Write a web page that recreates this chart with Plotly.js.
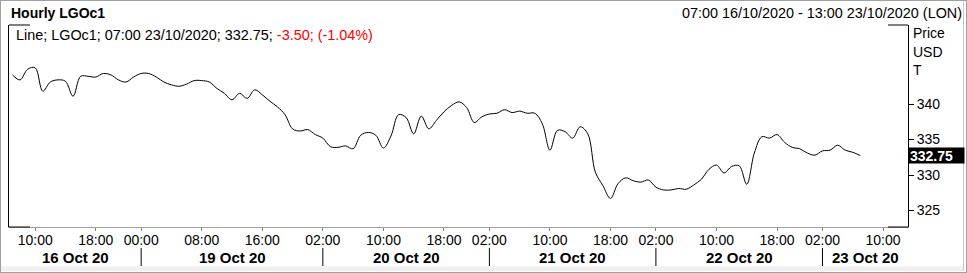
<!DOCTYPE html>
<html><head><meta charset="utf-8">
<script src="https://cdn.plot.ly/plotly-3.0.1.min.js"></script>
<style>
html,body{margin:0;padding:0;background:#fff;}
#wrap{position:relative;width:967px;height:273px;overflow:hidden;}
#chart{width:967px;height:273px;}
#border{position:absolute;left:0;top:0;width:965px;height:271px;border:1px solid #a0a0a0;pointer-events:none;}
</style>
</head><body><div id="wrap"><div id="chart"></div><div id="border"></div></div>
<script>
const dayLabels = ['16 Oct 20','19 Oct 20','20 Oct 20','21 Oct 20','22 Oct 20','23 Oct 20'];
const dayKeys = ['16/10','19/10','20/10','21/10','22/10','23/10'];
const dayFirstHour = [7,0,1,1,1,1];
const dayLastHour = [23,22,22,22,22,13];
const tickHours = [[10,18],[0,8,16],[2,10,18],[2,10,18],[2,10,18],[2,10]];
const prices = [344.1,343.4,344.9,345.1,341.8,343.1,343.4,343.2,341.1,343.9,
343.9,343.8,344.3,344.1,343.4,343.1,343.8,344.3,344.3,343.8,
343.1,342.7,342.5,342.8,343.3,343.3,343.1,342.2,341.5,340.6,
341.5,340.8,342.0,341.3,340.4,339.6,338.5,336.5,336.2,336.4,
335.7,335.2,334.0,333.9,334.1,333.7,335.6,336.0,335.6,333.8,
335.5,338.5,338.1,335.8,338.3,336.5,337.7,338.9,339.8,340.3,
339.5,337.4,338.2,338.6,338.7,339.2,338.8,339.0,338.7,338.7,
337.2,333.5,336.3,336.1,335.2,336.8,335.8,330.4,328.5,326.7,
328.8,329.6,329.2,329.0,329.3,328.3,327.9,327.9,328.1,328.0,
328.6,329.4,330.8,331.4,330.3,331.2,331.3,328.7,333.1,335.4,
335.2,335.7,334.6,333.9,333.7,333.1,332.8,333.4,333.5,334.2,
333.5,333.2,332.75];
const ricName = 'LGOc1';
const lastTime = '07:00 23/10/2020';
const prevClose = 336.25;
const yTicks = [325,330,335,340];
const yUnits = ['Price','USD','T'];

const pad = h => (h<10?'0':'')+h+':00';
const cats = [];
dayKeys.forEach((k,d)=>{ for(let h=dayFirstHour[d]; h<=dayLastHour[d]; h++) cats.push(k+' '+pad(h)); });
const tickvals = [], ticktext = [];
tickHours.forEach((hs,d)=>hs.forEach(h=>{ tickvals.push(dayKeys[d]+' '+pad(h)); ticktext.push(pad(h)); }));
const xr = [-0.46, 118.3];
const seps = tickHours.slice(1).map((hs,i)=>cats.indexOf(dayKeys[i+1]+' '+pad(hs[0])));
const bounds = [xr[0]].concat(seps).concat([xr[1]]);

const last = prices[prices.length-1];
const chg = last - prevClose;
const pct = chg/prevClose*100;

const F = 'Liberation Sans, Arial, sans-serif';
const px = v => (v-9)/899, py = v => (227-v)/202;
const annotations = [
  {xref:'paper',yref:'paper',x:0,y:py(13),xanchor:'left',yanchor:'middle',showarrow:false,text:'<b>Hourly '+ricName+'</b>',font:{family:F,size:14,color:'#000'}},
  {xref:'paper',yref:'paper',x:px(964),y:py(13),xanchor:'right',yanchor:'middle',showarrow:false,text:'07:00 16/10/2020 - 13:00 23/10/2020 (LON)',font:{family:F,size:14.4,color:'#000'}},
  {xref:'paper',yref:'paper',x:px(14),y:py(35),xanchor:'left',yanchor:'middle',showarrow:false,
   text:'Line; '+ricName+'; '+lastTime+'; '+last.toFixed(2)+'; <span style="color:#ff0000">'+chg.toFixed(2)+'; ('+pct.toFixed(2)+'%)</span>',font:{family:F,size:14.4,color:'#000'}},
  {xref:'paper',yref:'y',x:1,y:last,xanchor:'left',yanchor:'middle',showarrow:false,text:'<b>'+last.toFixed(2)+'</b>',bgcolor:'#000',font:{family:F,size:14,color:'#fff'},width:53,height:13,borderpad:1,align:'left'}
];
yUnits.forEach((u,i)=>annotations.push({xref:'paper',yref:'paper',x:px(911),y:py([33,52,70][i]),xanchor:'left',yanchor:'middle',showarrow:false,text:u,font:{family:F,size:14,color:'#000'}}));
dayLabels.forEach((l,i)=>annotations.push({xref:'x',yref:'paper',x:(bounds[i]+bounds[i+1])/2,y:py(257),xanchor:'center',yanchor:'middle',showarrow:false,text:'<b>'+l+'</b>',font:{family:F,size:15,color:'#000'}}));

const shapes = [
  {type:'rect',xref:'paper',yref:'paper',x0:px(1),x1:px(963),y0:py(266.5),y1:py(271),fillcolor:'#f0f0f0',line:{width:0},layer:'below'},
  {type:'line',xref:'paper',yref:'paper',x0:px(963.5),x1:px(963.5),y0:py(1),y1:py(271),line:{color:'#c8c8c8',width:1}}
];
seps.forEach(s=>shapes.push({type:'line',xref:'x',yref:'paper',x0:s,x1:s,y0:py(248),y1:py(266),line:{color:'#000',width:1}}));
[[0,px(30)],[px(888),1]].forEach(([a,b])=>{
  shapes.push({type:'line',xref:'paper',yref:'paper',x0:a,x1:b,y0:1,y1:1,line:{color:'#000',width:1}});
  shapes.push({type:'line',xref:'paper',yref:'paper',x0:a,x1:b,y0:0,y1:0,line:{color:'#000',width:1}});
});

Plotly.newPlot('chart',[{
  type:'scatter',mode:'lines',x:cats.slice(0,prices.length),y:prices,
  line:{color:'#000',width:1,shape:'spline',smoothing:1},hoverinfo:'skip'
}],{
  width:967,height:273,margin:{l:9,r:59,t:25,b:46},
  paper_bgcolor:'#fff',plot_bgcolor:'#fff',showlegend:false,
  font:{family:F,size:14,color:'#000'},
  xaxis:{type:'category',categoryorder:'array',categoryarray:cats,range:xr,tickmode:'array',tickvals:tickvals,ticktext:ticktext,
    ticks:'outside',ticklen:3,tickcolor:'#808080',showline:true,linecolor:'#a0a0a0',linewidth:1,showgrid:false,zeroline:false,
    tickfont:{family:F,size:14,color:'#000'},tickangle:0,ticklabelstandoff:-3},
  yaxis:{side:'right',range:[322.68,351.13],tickmode:'array',tickvals:yTicks,ticks:'outside',ticklen:5,tickcolor:'#000',
    showline:true,mirror:true,linecolor:'#000',linewidth:1,showgrid:false,zeroline:false,tickfont:{family:F,size:14,color:'#000'}},
  annotations:annotations,shapes:shapes
},{staticPlot:true,displayModeBar:false});
</script></body></html>
